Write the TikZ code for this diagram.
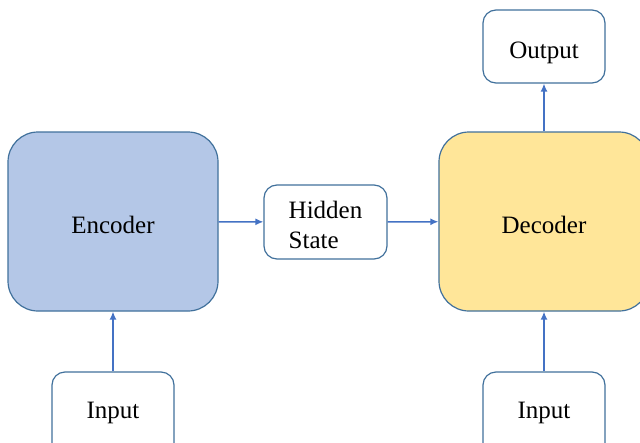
\documentclass[tikz,border=0pt]{standalone}
\usepackage{fontspec}
\setmainfont{Liberation Serif}
\usetikzlibrary{arrows.meta}
\definecolor{edgeblue}{HTML}{41719C}
\definecolor{linkblue}{HTML}{4472C4}
\definecolor{encfill}{HTML}{B4C7E7}
\definecolor{decfill}{HTML}{FFE699}
\tikzset{
  block/.style={draw=edgeblue, line width=1.2pt, rounded corners=30pt,
    minimum width=210pt, minimum height=179pt, inner sep=0pt,
    text height=23pt, text depth=0pt,
    font=\fontsize{25}{30}\selectfont},
  smallbox/.style={draw=edgeblue, line width=1.2pt, rounded corners=13pt,
    fill=white, minimum width=122pt, minimum height=73pt, inner sep=0pt,
    text height=23pt, text depth=0pt,
    font=\fontsize{25}{30}\selectfont},
  inbox/.style={smallbox, minimum height=90pt, text height=17pt, text depth=15pt},
  link/.style={draw=linkblue, line width=1.5pt,
    -{Latex[length=8pt,width=7pt]}}
}
\begin{document}
\begin{tikzpicture}[x=1pt,y=-1pt]
  \clip (0,0) rectangle (640,442);
  \fill[white] (0,0) rectangle (640,442);
  % main blocks
  \node[block, fill=encfill] (enc) at (113,221.5) {Encoder};
  \node[block, fill=decfill] (dec) at (544,221.5) {Decoder};
  % small boxes
  \node[smallbox, minimum width=123pt, minimum height=74pt, align=left,
        text height=52pt] (hid) at (325.5,222) {Hidden\\State};
  \node[smallbox] (out) at (544,46.5) {Output};
  \node[inbox] (inA) at (113,417) {Input};
  \node[inbox] (inB) at (544,417) {Input};
  % connectors
  \draw[link] (enc) -- (hid);
  \draw[link] (hid) -- (dec);
  \draw[link] (dec) -- (out);
  \draw[link] (inA) -- (enc);
  \draw[link] (inB) -- (dec);
\end{tikzpicture}
\end{document}
